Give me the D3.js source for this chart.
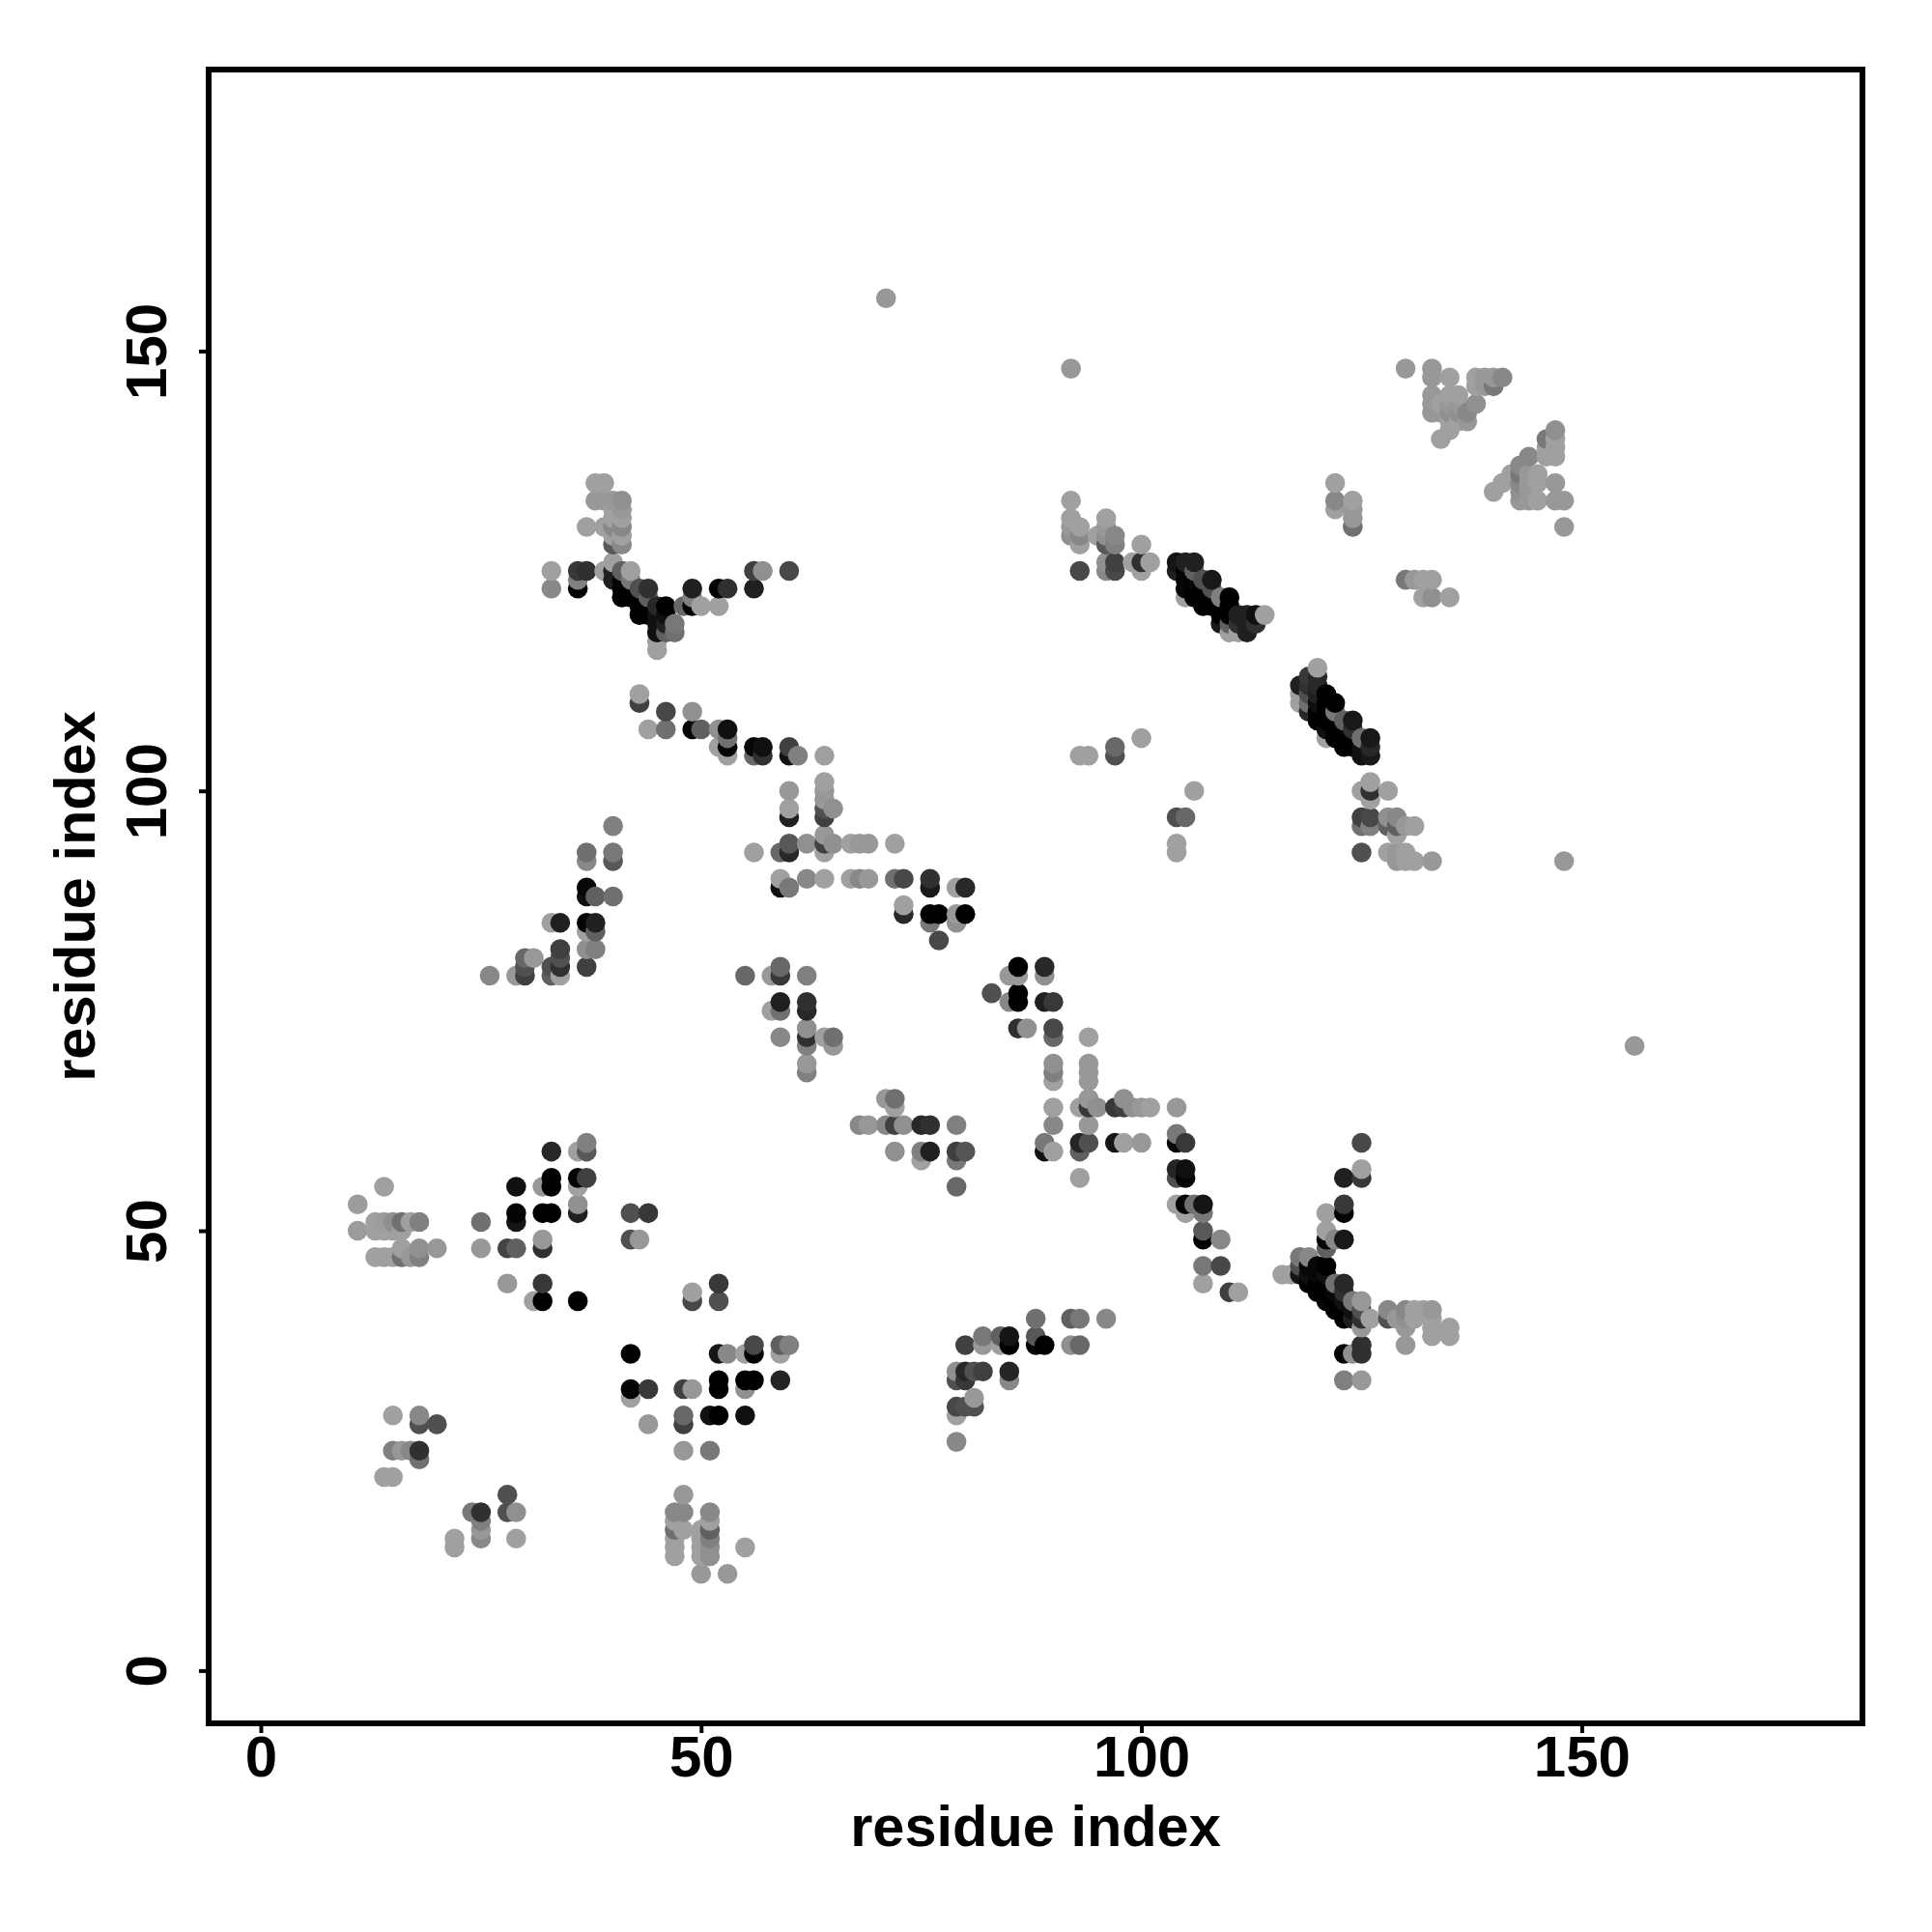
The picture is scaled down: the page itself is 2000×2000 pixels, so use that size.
<!DOCTYPE html>
<html>
<head>
<meta charset="utf-8">
<script src="https://cdn.jsdelivr.net/npm/d3@7/dist/d3.min.js"></script>
<style>html,body{margin:0;padding:0;background:#fff}svg{display:block}text{font-family:"Liberation Sans",Arial,sans-serif;font-weight:700;fill:#000}</style>
</head>
<body>
<svg id="chart" width="2000" height="2000"></svg>
<script>
// Each contact: [residue i, residue j, grey level 0-255]
const lowerLeft = [[14,55,0xa0],[11,53,0x9c],[13,51,0xa0],[14,51,0x9c],[15,51,0x90],[16,51,0x70],[17,51,0xa0],[18,51,0x80],[11,50,0x9c],[13,50,0xa0],[14,50,0xa0],[15,50,0xa0],[16,50,0xa0],[16,48,0xa0],[18,48,0x90],[20,48,0x98],[13,47,0xa0],[14,47,0xa0],[15,47,0xa0],[16,47,0x70],[17,47,0x98],[18,47,0x80],
[25,51,0x70],[25,48,0x98],[28,48,0x44],[29,48,0x60],[32,49,0x98],[32,48,0x30],[29,55,0x10],[29,52,0x05],[29,51,0x15],[32,55,0x98],[33,56,0x00],[33,55,0x00],[32,52,0x00],[33,52,0x00],[33,59,0x28],[36,59,0xa0],[37,59,0x58],[37,60,0x80],[36,56,0x05],[37,56,0x40],[36,55,0xa0],[36,53,0x90],[36,52,0x20],[42,52,0x50],[44,52,0x38],[42,49,0x50],[43,49,0x98],[28,44,0x98],[32,44,0x38],[31,42,0xa0],[32,42,0x00],[36,42,0x00],[49,43,0xa0],[49,42,0x48],[52,44,0x38],[52,42,0x50]];
const midLower = [[42,36,0x00],[52,36,0x15],[53,36,0x88],[55,36,0xa0],[56,36,0x05],[56,37,0x48],[59,37,0x60],[60,37,0x80],[59,36,0xa0],[52,33,0x00],[52,32,0x00],[55,33,0x00],[56,33,0x00],[55,32,0x90],[59,33,0x25],[42,32,0x05],[42,31,0xa0],[44,32,0x38],[48,32,0x40],[49,32,0x98],[51,29,0x10],[52,29,0x00],[55,29,0x10],[48,29,0x68],[48,28,0x40],[44,28,0x98],[48,25,0x98],[51,25,0x78]];
const bottomLeft = [[15,29,0xa0],[18,29,0x88],[18,28,0x50],[20,28,0x50],[15,25,0x80],[16,25,0x98],[17,25,0x88],[18,25,0x30],[18,24,0x70],[14,22,0xa0],[15,22,0xa0],[28,20,0x50],[24,18,0x78],[25,18,0x30],[28,18,0x50],[29,18,0x90],[25,17,0x80],[25,16,0x98],[25,15,0x88],[22,15,0xa0],[22,14,0xa0],[29,15,0xa0]];
const bottomMid = [[48,20,0x98],[47,18,0x88],[48,18,0x88],[47,17,0xa0],[47,16,0x70],[47,15,0xa0],[47,14,0xa0],[47,13,0xa0],[48,16,0xa0],[51,18,0x88],[51,17,0xa0],[51,16,0x60],[51,15,0x80],[51,14,0x90],[51,13,0x90],[50,16,0xa0],[50,15,0xa0],[50,14,0xa0],[50,13,0xa0],[50,11,0x98],[53,11,0x98],[55,14,0xa0]];
const midChain = [[71,65,0x98],[72,65,0x70],[72,64,0xa0],[68,62,0x88],[69,62,0x98],[71,62,0x88],[72,62,0x40],[73,62,0x90],[75,62,0x28],[76,62,0x30],[79,62,0x80],[72,59,0x90],[75,59,0x80],[76,59,0x20],[79,59,0x40],[80,59,0x55],[75,58,0xa0],[79,58,0x78],[79,55,0x68],
[90,64,0xa0],[90,62,0x88],[89,60,0x78],[89,59,0x10],[90,59,0xa0],[93,64,0xa0],[94,65,0x98],[94,64,0x38],[95,64,0x90],[94,62,0x98],[93,60,0x25],[94,60,0x50],[93,59,0x60],[93,56,0xa0],[97,64,0x38],[98,65,0x90],[98,64,0x40],[99,64,0x90],[100,64,0x98],[101,64,0xa0],[97,60,0x15],[98,60,0xa0],[100,60,0x98],
[104,64,0x98],[104,61,0x78],[104,60,0x05],[105,60,0x38],[104,57,0x25],[105,57,0x10],[104,56,0x50],[105,56,0x05],[104,53,0xa0],[105,53,0x05],[106,53,0x70],[107,53,0x15],[105,52,0xa0],[107,52,0x78],[107,50,0x58],[107,49,0x00],[109,49,0x88],[107,46,0x78],[109,46,0x48],[107,44,0xa0],[110,43,0x40],[111,43,0xa0]];
const spike = [[125,60,0x48],[125,57,0xa0],[125,56,0x38],[123,56,0x20],[123,53,0x38],[123,52,0x05],[121,52,0xa0],[121,50,0xa0],[121,49,0x05],[123,49,0x18],[122,49,0x88],[121,48,0x60],[116,45,0xa0],[117,45,0xa0],[118,47,0x78],[119,47,0x88],[118,46,0x50],[119,46,0x08],[120,46,0x08],[121,46,0x00],[118,45,0x15],[119,45,0x10],[120,45,0x08],[121,45,0x10],[119,44,0x00],[120,44,0x00],[121,44,0x00],[122,44,0x70],[123,44,0x28],[120,43,0x00],[121,43,0x00],[122,43,0x08],[123,43,0x30],[121,42,0x05],[122,42,0x00],[123,42,0x10],[124,42,0x78],[125,42,0x98],[122,41,0x00],[123,41,0x00],[124,41,0x10],[125,41,0x50],[123,40,0x00],[124,40,0x20],[125,40,0x30],[126,40,0xa0],[125,39,0x98],
[128,41,0x88],[128,40,0x50],[129,40,0x98],[130,41,0x88],[131,41,0xa0],[132,41,0xa0],[133,41,0x98],[130,40,0x90],[131,40,0xa0],[130,39,0x98],[130,37,0x98],[133,40,0xa0],[133,39,0xa0],[133,38,0xa0],[135,39,0xa0],[135,38,0xa0],[125,37,0x30],[125,36,0x30],[123,36,0x05],[124,36,0x90],[123,33,0x80],[125,33,0x98]];
const arcLow = [[88,40,0x70],[92,40,0x60],[93,40,0x78],[96,40,0x88],[80,37,0x40],[82,38,0x78],[82,37,0x98],[84,38,0x60],[85,38,0x15],[84,37,0xa0],[85,37,0x00],[88,38,0x58],[88,37,0x05],[89,37,0x00],[92,37,0x90],[93,37,0x68],[79,34,0x90],[79,33,0x50],[80,34,0x28],[80,33,0x38],[81,34,0x50],[82,34,0x40],[85,34,0x25],[85,33,0x88],[81,31,0x98],[79,30,0x48],[80,30,0x50],[81,30,0x50],[79,29,0xa0],[79,26,0x88]];
const midUpper = [[90,73,0x48],[90,72,0x68],[90,69,0x90],[90,68,0x80],[90,67,0xa0],[86,80,0x00],[89,80,0x28],[85,79,0x98],[86,79,0x98],[89,79,0x90],[83,77,0x50],[86,77,0x00],[86,76,0x00],[85,76,0x88],[89,76,0x20],[90,76,0x38],[86,73,0x30],[87,73,0x90],[94,72,0xa0],[94,69,0x98],[94,68,0x98],[94,67,0x98],[94,65,0x98]];
const upperMid = [[93,104,0xa0],[94,104,0xa0],[97,105,0x68],[97,104,0x50],[100,106,0xa0],[106,100,0xa0],[104,97,0x50],[105,97,0x68],[104,94,0xa0],[104,93,0xa0]];
const diagonalA = [[120,114,0xa0],[119,113,0x38],[120,113,0x28],[118,112,0x20],[119,112,0x30],[120,112,0x28],[118,111,0xa0],[119,111,0x50],[120,111,0x20],[121,111,0x00],[118,110,0xa0],[119,110,0x70],[120,110,0x10],[121,110,0x00],[122,110,0x00],[119,109,0x28],[120,109,0x00],[121,109,0x00],[122,109,0x78],[120,108,0x00],[121,108,0x00],[122,108,0x00],[123,108,0x60],[124,108,0x18],[121,107,0x10],[122,107,0x00],[123,107,0x00],[124,107,0x30],[121,106,0xa0],[122,106,0x00],[123,106,0x00],[124,106,0x00],[125,106,0x70],[126,106,0x18],[123,105,0x00],[124,105,0x00],[125,105,0x10],[126,105,0x28],[125,104,0x10],[126,104,0x18]];
const belowDiagonalA = [[126,101,0xa0],[126,100,0x30],[125,100,0xa0],[128,100,0xa0],[126,99,0xa0],[125,97,0x40],[126,97,0x48],[125,96,0x70],[126,96,0x80],[128,97,0x90],[129,97,0x88],[128,96,0x60],[129,96,0x60],[130,96,0x98],[131,96,0xa0],[129,95,0xa0],[125,93,0x50],[128,93,0xa0],[129,93,0x98],[130,93,0xa0],[129,92,0x98],[130,92,0xa0],[131,92,0xa0],[133,92,0x98]];
const midChain2 = [[43,111,0xa0],[43,110,0x40],[46,109,0x48],[49,109,0x90],[44,107,0xa0],[46,107,0x70],[49,107,0x05],[50,107,0x60],[52,107,0x90],[53,107,0x10],[53,106,0x70],[52,105,0xa0],[53,105,0x05],[53,104,0xa0],[56,105,0x08],[57,105,0x10],[56,104,0x68],[57,104,0x30],[60,105,0x40],[60,104,0x10],[61,104,0x80],[64,104,0xa0],[64,101,0xa0],[64,100,0x98],[64,99,0x98],[64,98,0x50],[64,97,0x40],[65,98,0x90],[60,100,0x98],[60,98,0xa0],[60,97,0x20],
[60,94,0x58],[62,94,0x90],[64,95,0x98],[64,94,0x40],[65,94,0x90],[67,94,0xa0],[68,94,0x98],[69,94,0x98],[72,94,0xa0],[56,93,0xa0],[59,93,0x68],[60,93,0x28],[64,93,0xa0],[59,90,0xa0],[62,90,0x88],[64,90,0xa0],[67,90,0xa0],[68,90,0x88],[69,90,0x98],[72,90,0x70],[73,90,0x48],[76,90,0x30],[59,89,0x10],[60,89,0x78],[76,89,0x18],[79,89,0xa0],[80,89,0x28],[73,87,0xa0],[73,86,0x28],[76,86,0x00],[77,86,0x00],[79,86,0x98],[80,86,0x00],[76,85,0x78],[79,85,0x90],[77,83,0x48]];
const leftRise = [[40,96,0x80],[37,93,0x70],[40,93,0x78],[37,92,0x88],[40,92,0x58],[37,89,0x08],[37,88,0x10],[38,88,0x60],[40,88,0x70],[33,85,0xa0],[34,85,0x20],[37,85,0x05],[38,85,0x20],[37,84,0xa0],[38,84,0x60],[37,82,0x90],[38,82,0x80],[34,82,0x40],[34,81,0x50],[34,80,0x30],[34,79,0xa0],[33,80,0x50],[33,79,0x60],[37,80,0x40],[30,81,0x68],[31,81,0x98],[30,80,0x50],[30,79,0x40],[29,79,0x98],[26,79,0x88]];
const centerCluster = [[55,79,0x68],[58,79,0x98],[59,80,0x68],[59,79,0x38],[62,79,0x80],[59,76,0x20],[62,76,0x30],[59,75,0x70],[58,75,0xa0],[62,75,0x28],[59,72,0x88],[62,73,0x90],[62,72,0x30],[62,71,0x80],[64,72,0xa0],[65,72,0x70],[65,71,0x98],[62,69,0x98],[62,68,0x80]];
const vShape = [[38,135,0xa0],[39,135,0xa0],[38,133,0x98],[39,133,0x98],[40,133,0x98],[41,133,0x90],[40,132,0xa0],[41,132,0x98],[40,131,0xa0],[41,131,0xa0],[37,130,0xa0],[39,130,0xa0],[40,130,0x88],[41,130,0x88],[40,129,0xa0],[41,129,0xa0],[40,128,0x58],[41,128,0x88],[40,126,0xa0],
[33,125,0xa0],[36,125,0x38],[37,125,0x30],[39,125,0xa0],[40,125,0x20],[41,125,0x60],[42,125,0xa0],[36,124,0x80],[40,124,0x20],[41,124,0x05],[42,124,0x78],[33,123,0x88],[36,123,0x05],[41,123,0x00],[42,123,0x00],[43,123,0x50],[44,123,0x30],[49,123,0x20],[52,123,0x05],[53,123,0x30],[56,123,0x20],[56,125,0x40],[57,125,0x90],[60,125,0x48],[41,122,0x00],[42,122,0x00],[43,122,0x00],[44,122,0x60],[49,122,0x80],[43,121,0x00],[44,121,0x00],[45,121,0x28],[46,121,0x00],[48,121,0x68],[49,121,0x05],[50,121,0xa0],[52,121,0xa0],[43,120,0x00],[44,120,0x00],[45,120,0x10],[46,120,0x10],[45,119,0x10],[46,119,0x20],[47,119,0x78],[45,118,0x10],[46,118,0x60],[47,118,0x70],[45,117,0xa0],[45,116,0xa0]];
const upperRight = [[92,148,0x98],[130,148,0x98],[133,148,0x98],[133,147,0x98],[135,147,0xa0],[138,147,0xa0],[139,147,0x98],[140,147,0x98],[141,147,0x88],[138,146,0xa0],[139,146,0x98],[140,146,0x78],[133,145,0x98],[133,144,0x98],[133,143,0x98],[134,144,0xa0],[134,143,0x98],[135,145,0xa0],[135,144,0x98],[135,143,0x90],[135,142,0xa0],[136,145,0xa0],[136,144,0x98],[136,143,0x90],[136,142,0xa0],[137,143,0x88],[137,142,0x98],[138,144,0x90],[135,141,0xa0],[134,140,0xa0],
[147,141,0x90],[146,140,0x78],[147,140,0xa0],[146,139,0xa0],[147,139,0xa0],[146,138,0xa0],[147,138,0xa0],[144,138,0x88],[143,137,0x88],[142,136,0xa0],[141,135,0xa0],[140,134,0xa0],[143,136,0x78],[143,135,0x88],[143,134,0x90],[143,133,0x98],[144,136,0x98],[144,135,0x98],[144,134,0x98],[144,133,0x98],[145,136,0xa0],[145,135,0xa0],[145,133,0xa0],[147,135,0x98],[147,133,0x98],[148,133,0x98],[148,130,0x98],
[122,135,0xa0],[122,133,0x88],[122,132,0xa0],[124,133,0xa0],[124,132,0x98],[124,131,0x98],[124,130,0x70],[130,124,0x78],[131,124,0x98],[132,124,0xa0],[133,124,0xa0],[132,122,0xa0],[133,122,0x90],[135,122,0xa0]];
const upperMidStrip = [[92,133,0xa0],[92,131,0xa0],[92,130,0x98],[92,129,0x90],[93,130,0xa0],[93,129,0x88],[93,128,0xa0],[93,125,0x48],[96,131,0xa0],[95,129,0xa0],[96,130,0x98],[96,129,0x90],[96,128,0x58],[97,129,0x88],[97,128,0x80],[96,126,0x90],[96,125,0x88],[97,126,0x40],[97,125,0x48],[100,128,0xa0],[99,126,0xa0],[100,126,0x30],[101,126,0xa0],[100,125,0xa0]];
const diagonalB = [[104,126,0x15],[105,126,0x20],[106,126,0x20],[104,125,0x20],[105,125,0x05],[106,125,0x60],[105,124,0x05],[106,124,0x05],[107,124,0x50],[108,124,0x18],[105,123,0x05],[106,123,0x00],[107,123,0x00],[108,123,0x50],[105,122,0xa0],[106,122,0x00],[107,122,0x00],[108,122,0x00],[109,122,0x80],[110,122,0x00],[107,121,0x00],[108,121,0x00],[109,121,0x00],[110,121,0x00],[109,120,0x00],[110,120,0x00],[111,120,0x20],[112,120,0x20],[113,120,0x10],[114,120,0xa0],[109,119,0x18],[110,119,0x60],[111,119,0x30],[112,119,0x20],[113,119,0x30],[110,118,0xa0],[111,118,0xa0],[112,118,0x20]];
const singles = [[71,156,0x98],[156,71,0x98],[148,92,0x98]];
const contactGroups = [lowerLeft,midLower,bottomLeft,bottomMid,midChain,spike,arcLow,midUpper,upperMid,diagonalA,belowDiagonalA,midChain2,leftRise,centerCluster,vShape,upperRight,upperMidStrip,diagonalB,singles];
const tickValues = [0,50,100,150];
const axisTitle = "residue index";

const svg = d3.select("#chart");
const frame = {left:216, right:1928, top:72, bottom:1784};
const x = d3.scaleLinear().domain([-5.92,181.88]).range([frame.left,frame.right]);
const y = d3.scaleLinear().domain([-6,182]).range([frame.bottom,frame.top]);
const grey = d3.scaleLinear().domain([0,255]).range(["#000000","#ffffff"]);

const contacts = contactGroups.flat().map(d=>({i:d[0],j:d[1],g:d[2]}))
  .sort((a,b)=>d3.ascending(a.i,b.i)||d3.ascending(a.j,b.j));

svg.append("g").selectAll("circle").data(contacts).join("circle")
  .attr("cx",d=>x(d.i)).attr("cy",d=>y(d.j)).attr("r",10.3).attr("fill",d=>grey(d.g));

const xAxis = d3.axisBottom(x).tickValues(tickValues).tickSize(10).tickPadding(10).tickFormat(d3.format("d"));
const yAxis = d3.axisLeft(y).tickValues(tickValues).tickSize(10).tickPadding(10).tickFormat(d3.format("d"));
const gx = svg.append("g").attr("transform",`translate(0,${frame.bottom})`).call(xAxis);
const gy = svg.append("g").attr("transform",`translate(${frame.left},0)`).call(yAxis);
[gx,gy].forEach(g=>{g.select(".domain").remove();g.selectAll("line").attr("stroke","#000").attr("stroke-width",4);});
gx.selectAll("text").attr("font-size",60).attr("dy",null).attr("text-anchor","middle").attr("y",55);
gy.selectAll("text").attr("font-size",60).attr("x",null).attr("dy",null)
  .attr("text-anchor","middle").attr("transform",`translate(-44,0) rotate(-90)`).attr("x",0).attr("y",0);

svg.append("rect").attr("x",frame.left).attr("y",frame.top)
  .attr("width",frame.right-frame.left).attr("height",frame.bottom-frame.top)
  .attr("fill","none").attr("stroke","#000").attr("stroke-width",6);

svg.append("text").attr("x",(frame.left+frame.right)/2).attr("y",1911)
  .attr("text-anchor","middle").attr("font-size",59.5).text(axisTitle);
svg.append("text").attr("transform",`translate(97.5,928) rotate(-90)`)
  .attr("text-anchor","middle").attr("font-size",59.5).text(axisTitle);
</script>
</body>
</html>
